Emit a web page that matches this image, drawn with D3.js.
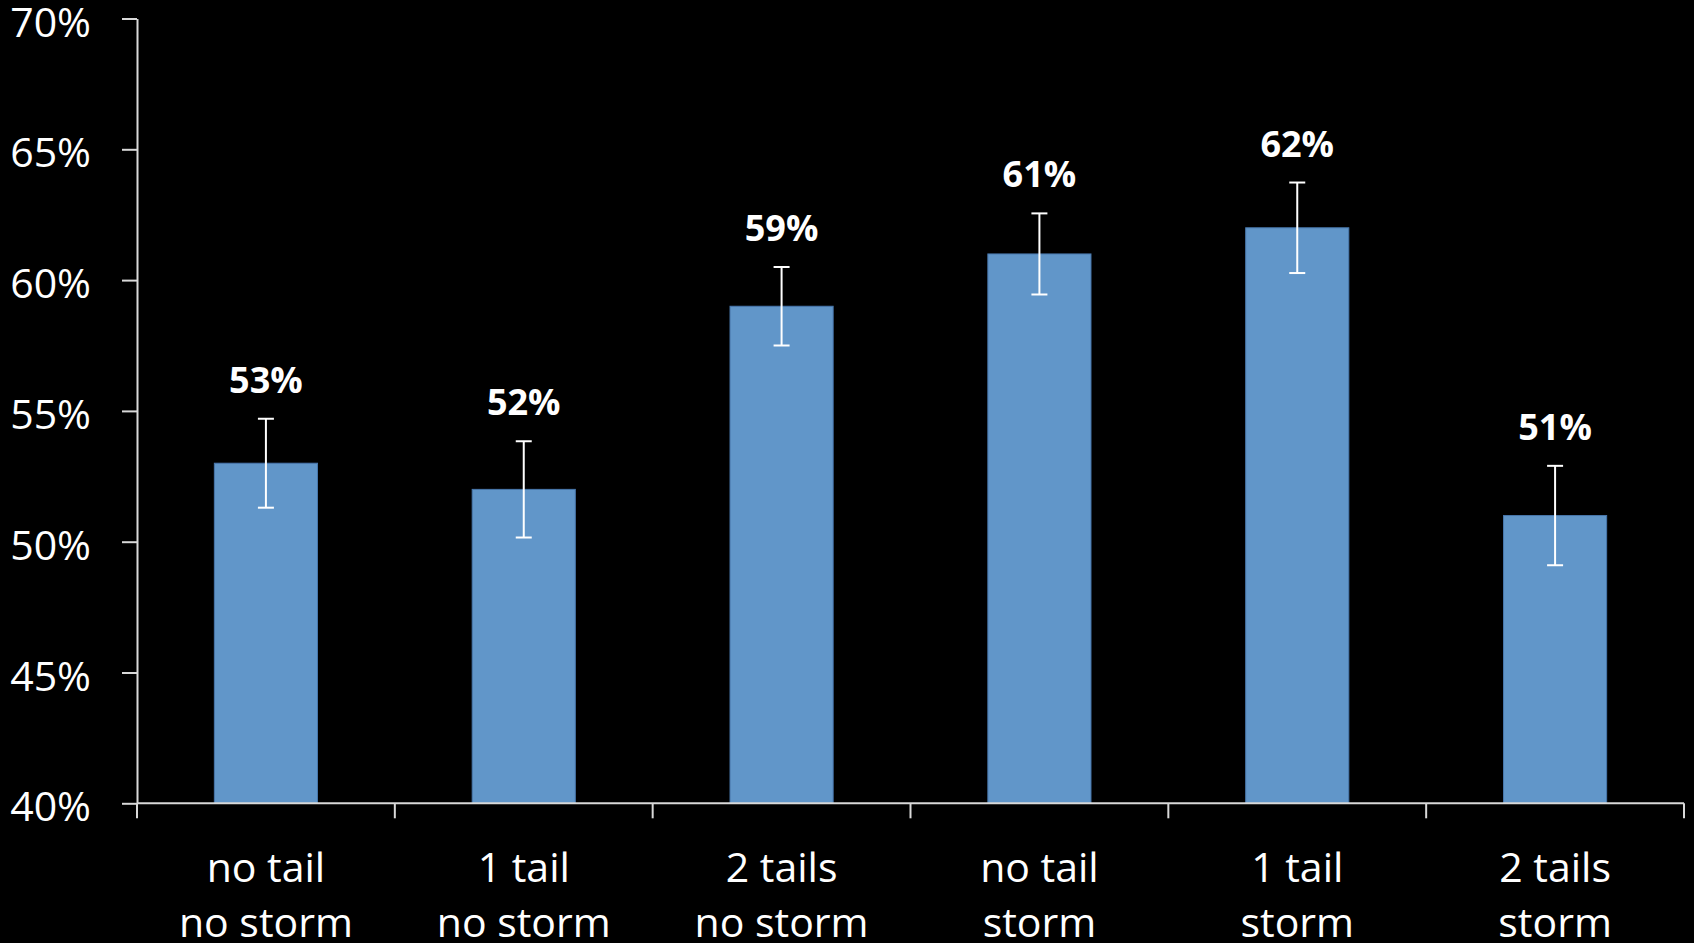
<!DOCTYPE html>
<html>
<head>
<meta charset="utf-8">
<script src="https://cdn.jsdelivr.net/npm/d3@7"></script>
<style>
  html, body { margin: 0; padding: 0; background: #000; }
  svg { display: block; }
</style>
</head>
<body>
<svg id="chart" width="1694" height="943"></svg>
<script>
const categoriesLine1 = ["no tail", "1 tail", "2 tails", "no tail", "1 tail", "2 tails"];
const categoriesLine2 = ["no storm", "no storm", "no storm", "storm", "storm", "storm"];
const values = [53, 52, 59, 61, 62, 51];
const errors = [1.7, 1.84, 1.5, 1.55, 1.73, 1.9];
const yTicks = [40, 45, 50, 55, 60, 65, 70];

const svg = d3.select("#chart");
const plotLeft = 137, plotRight = 1684, plotTop = 18.5, plotBottom = 803.3;

const ids = values.map((d, i) => i);
const x = d3.scaleBand().domain(ids).range([plotLeft, plotRight]).paddingInner(0.6).paddingOuter(0.3);
const y = d3.scaleLinear().domain([40, 70]).range([plotBottom, plotTop]);

const axisColor = "#d9d9d9";
const font = "'Open Sans', 'Noto Sans', sans-serif";

// Y axis
const yAxis = svg.append("g").attr("transform", `translate(${plotLeft},0)`)
  .call(d3.axisLeft(y).tickValues(yTicks).tickSize(15).tickSizeOuter(0).tickFormat(d => d + "%").tickPadding(31));
yAxis.select(".domain").attr("stroke", axisColor).attr("stroke-width", 2);
yAxis.selectAll(".tick line").attr("stroke", axisColor).attr("stroke-width", 2);
yAxis.selectAll(".tick text").attr("fill", "#fff").attr("font-family", font).attr("font-size", 41).attr("dy", "0.43em");

// Bars
svg.append("g").selectAll("rect").data(values).join("rect")
  .attr("x", (d, i) => x(i))
  .attr("width", x.bandwidth())
  .attr("y", d => y(d))
  .attr("height", d => y(40) - y(d))
  .attr("fill", "#6196C9")
  .attr("stroke", "#4877AC")
  .attr("stroke-width", 1);

// Error bars
const eg = svg.append("g").attr("stroke", "#fff").attr("stroke-width", 2);
values.forEach((v, i) => {
  const cx = x(i) + x.bandwidth() / 2;
  const y1 = y(v + errors[i]), y2 = y(v - errors[i]);
  eg.append("line").attr("x1", cx).attr("x2", cx).attr("y1", y1).attr("y2", y2);
  eg.append("line").attr("x1", cx - 8).attr("x2", cx + 8).attr("y1", y1).attr("y2", y1);
  eg.append("line").attr("x1", cx - 8).attr("x2", cx + 8).attr("y1", y2).attr("y2", y2);
});

// Value labels
svg.append("g").selectAll("text").data(values).join("text")
  .attr("x", (d, i) => x(i) + x.bandwidth() / 2)
  .attr("y", (d, i) => y(d + errors[i]) - 26)
  .attr("text-anchor", "middle")
  .attr("fill", "#fff")
  .attr("font-family", font)
  .attr("font-weight", "bold")
  .attr("font-size", 36)
  .text(d => d + "%");

// X axis
const xg = svg.append("g").attr("stroke", axisColor).attr("stroke-width", 2);
xg.append("line").attr("x1", plotLeft).attr("x2", plotRight).attr("y1", plotBottom).attr("y2", plotBottom);
const boundaries = d3.range(values.length + 1).map(k => plotLeft + k * (plotRight - plotLeft) / values.length);
xg.selectAll("line.tk").data(boundaries).join("line").attr("class", "tk")
  .attr("x1", d => d).attr("x2", d => d).attr("y1", plotBottom).attr("y2", plotBottom + 15);

// Category labels
const cl = svg.append("g").attr("fill", "#fff").attr("font-family", font).attr("font-size", 41).attr("text-anchor", "middle");
ids.forEach(i => {
  const cx = x(i) + x.bandwidth() / 2;
  cl.append("text").attr("x", cx).attr("y", 882).text(categoriesLine1[i]);
  cl.append("text").attr("x", cx).attr("y", 937).text(categoriesLine2[i]);
});
</script>
</body>
</html>
